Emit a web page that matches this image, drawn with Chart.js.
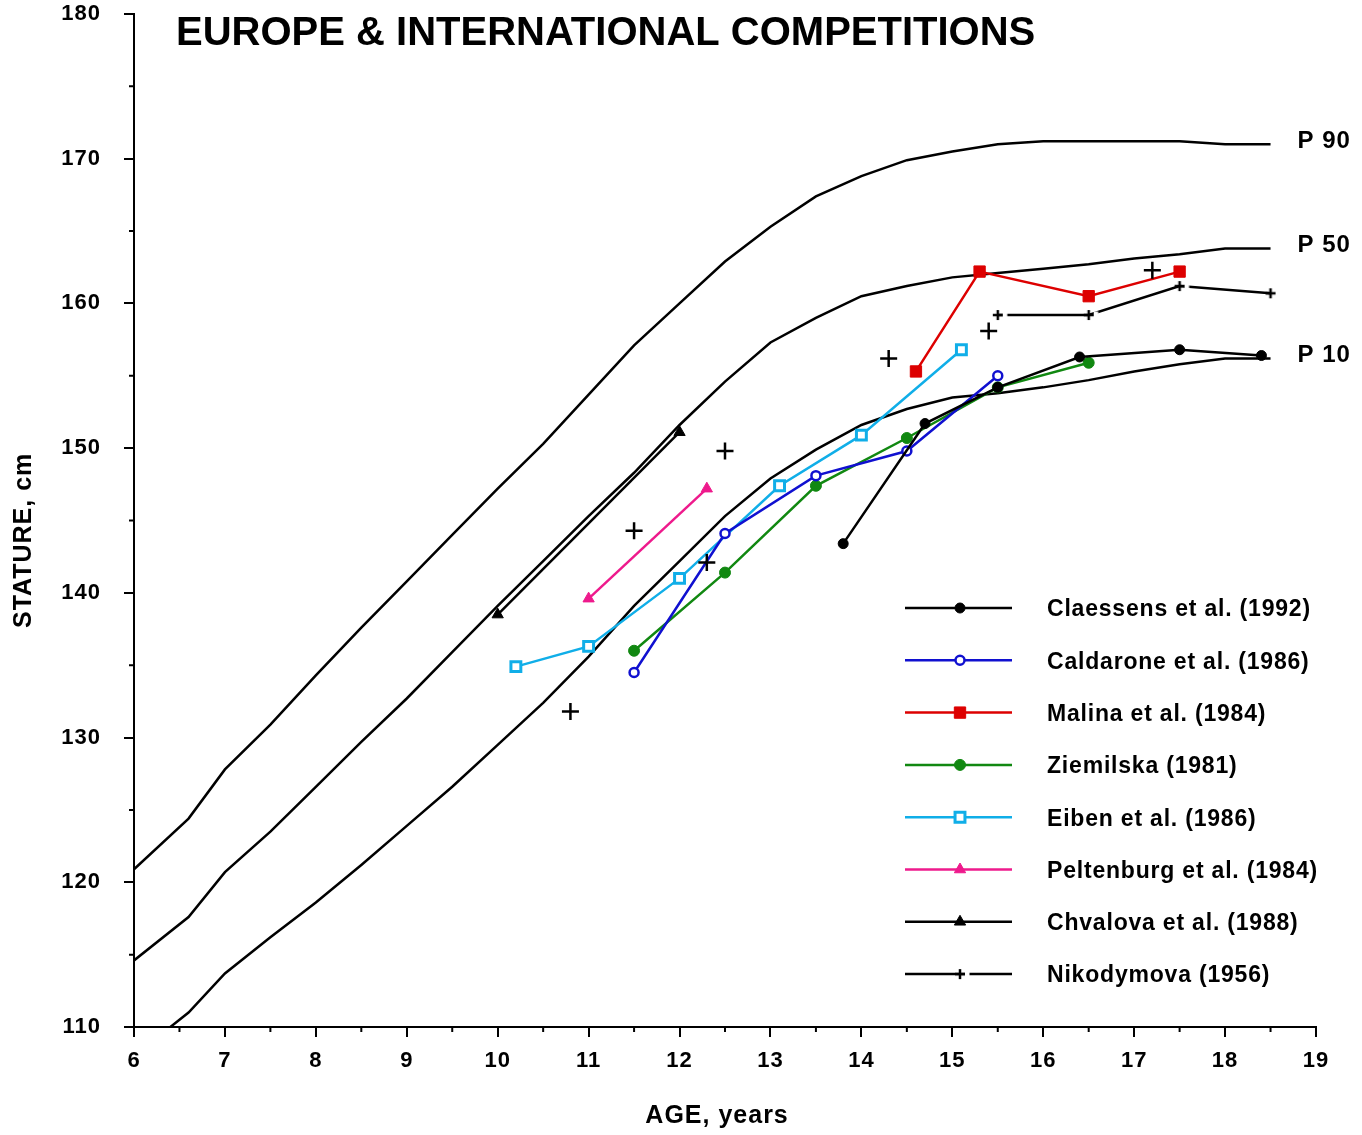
<!DOCTYPE html>
<html>
<head>
<meta charset="utf-8">
<script src="https://cdn.jsdelivr.net/npm/chart.js@4.4.1/dist/chart.umd.min.js"></script>
<style>
  html, body { margin: 0; padding: 0; background: #fff; }
</style>
</head>
<body>
<canvas id="grafico" width="1362" height="1135"></canvas>
<script>
// Curvas de referencia (percentiles)
const edadesRef = [6, 6.6, 7, 7.5, 8, 8.5, 9, 9.5, 10, 10.5, 11, 11.5, 12, 12.5, 13, 13.5, 14, 14.5, 15, 15.5, 16, 16.5, 17, 17.5, 18, 18.5];
const p90 = [120.9, 124.4, 127.8, 130.9, 134.3, 137.6, 140.8, 144.0, 147.2, 150.3, 153.7, 157.1, 160.0, 162.9, 165.3, 167.4, 168.8, 169.9, 170.5, 171.0, 171.2, 171.2, 171.2, 171.2, 171.0, 171.0];
const p50 = [114.6, 117.6, 120.7, 123.5, 126.6, 129.7, 132.7, 135.9, 139.1, 142.2, 145.3, 148.3, 151.6, 154.6, 157.3, 159.0, 160.5, 161.2, 161.8, 162.1, 162.4, 162.7, 163.1, 163.4, 163.8, 163.8];
const edadesP10 = [6.4, 6.6, 7, 7.5, 8, 8.5, 9, 9.5, 10, 10.5, 11, 11.5, 12, 12.5, 13, 13.5, 14, 14.5, 15, 15.5, 16, 16.5, 17, 17.5, 18, 18.5];
const p10 = [110.0, 111.0, 113.7, 116.2, 118.6, 121.2, 123.9, 126.6, 129.5, 132.4, 135.6, 139.1, 142.2, 145.3, 147.9, 149.9, 151.6, 152.7, 153.5, 153.8, 154.2, 154.7, 155.3, 155.8, 156.2, 156.2];
const etiquetasPercentil = ['P 90', 'P 50', 'P 10'];

// Estudios
const claessensEdad = [13.8, 14.7, 15.5, 16.4, 17.5, 18.4];
const claessensTalla = [143.4, 151.7, 154.2, 156.3, 156.8, 156.4];
const caldaroneEdad = [11.5, 12.5, 13.5, 14.5, 15.5];
const caldaroneTalla = [134.5, 144.1, 148.1, 149.8, 155.0];
const malinaEdad = [14.6, 15.3, 16.5, 17.5];
const malinaTalla = [155.3, 162.2, 160.5, 162.2];
const ziemilskaEdad = [11.5, 12.5, 13.5, 14.5, 15.5, 16.5];
const ziemilskaTalla = [136.0, 141.4, 147.4, 150.7, 154.2, 155.9];
const eibenEdad = [10.2, 11.0, 12.0, 13.1, 14.0, 15.1];
const eibenTalla = [134.9, 136.3, 141.0, 147.4, 150.9, 156.8];
const peltenburgEdad = [11.0, 12.3];
const peltenburgTalla = [139.6, 147.2];
const chvalovaEdad = [10.0, 12.0];
const chvalovaTalla = [138.5, 151.1];
const nikodymovaEdad = [15.5, 16.5, 17.5, 18.5];
const nikodymovaTalla = [159.2, 159.2, 161.2, 160.7];
// Puntos sueltos (cruces grandes)
const sueltosEdad = [10.8, 11.5, 12.3, 12.5, 14.3, 15.4, 17.2];
const sueltosTalla = [131.8, 144.3, 142.1, 149.8, 156.2, 158.1, 162.3];

const ticksX = [6, 7, 8, 9, 10, 11, 12, 13, 14, 15, 16, 17, 18, 19];
const ticksY = [110, 120, 130, 140, 150, 160, 170, 180];

const FUENTE = '"Liberation Sans", Arial, sans-serif';

function puntos(xs, ys) {
    return xs.map((x, i) => ({ x: x, y: ys[i] }));
}

// Marcador cruz con hueco blanco a la derecha (como en el original)
function cruzConHueco() {
    const c = document.createElement('canvas');
    c.width = 22; c.height = 22;
    const g = c.getContext('2d');
    g.fillStyle = '#fff';
    g.fillRect(16, 7.5, 4.5, 7);
    g.strokeStyle = '#000';
    g.lineWidth = 2.5;
    g.beginPath();
    g.moveTo(6, 11); g.lineTo(16, 11);
    g.moveTo(11, 6); g.lineTo(11, 16);
    g.stroke();
    return c;
}

function curva(xs, ys) {
    return { data: puntos(xs, ys), borderColor: '#000', borderWidth: 2.5, pointRadius: 0, tension: 0, order: 5 };
}

function serie(nombre, xs, ys, color, estilo, radio, relleno, grosorBorde) {
    return {
        label: nombre,
        data: puntos(xs, ys),
        borderColor: color,
        borderWidth: 2.5,
        backgroundColor: relleno,
        pointStyle: estilo,
        pointRadius: radio,
        pointBorderColor: color,
        pointBackgroundColor: relleno,
        pointBorderWidth: grosorBorde,
        tension: 0,
        enLeyenda: true,
        order: 1
    };
}

const datasets = [
    curva(edadesRef, p90),
    curva(edadesRef, p50),
    curva(edadesP10, p10),
    serie('Claessens et al. (1992)', claessensEdad, claessensTalla, '#000000', 'circle', 5, '#000000', 1),
    serie('Caldarone et al. (1986)', caldaroneEdad, caldaroneTalla, '#1010d0', 'circle', 4.5, '#ffffff', 2.5),
    serie('Malina et al. (1984)', malinaEdad, malinaTalla, '#dd0000', 'rect', 8, '#dd0000', 1),
    serie('Ziemilska (1981)', ziemilskaEdad, ziemilskaTalla, '#118811', 'circle', 5.5, '#118811', 1),
    serie('Eiben et al. (1986)', eibenEdad, eibenTalla, '#10aee8', 'rect', 7, '#ffffff', 3),
    serie('Peltenburg et al. (1984)', peltenburgEdad, peltenburgTalla, '#ee1a8c', 'triangle', 6.5, '#ee1a8c', 1),
    serie('Chvalova et al. (1988)', chvalovaEdad, chvalovaTalla, '#000000', 'triangle', 6.5, '#000000', 1),
    serie('Nikodymova (1956)', nikodymovaEdad, nikodymovaTalla, '#000000', cruzConHueco(), 5, '#000000', 2.5),
    {
        data: puntos(sueltosEdad, sueltosTalla),
        showLine: false,
        pointStyle: 'cross',
        pointRadius: 8.5,
        pointBorderColor: '#000',
        pointBorderWidth: 2.5,
        order: 0
    }
];

// Decoraciones: ticks menores, titulo, etiquetas P, leyenda
const pluginDecoracion = {
    id: 'decoracion',
    beforeLayout(chart) { chart.ctx.letterSpacing = '1px'; },
    beforeDraw(chart) { chart.ctx.letterSpacing = '1px'; },
    afterDraw(chart) {
        const ctx = chart.ctx;
        const ex = chart.scales.x, ey = chart.scales.y;
        ctx.save();

        // ticks menores
        ctx.strokeStyle = '#000';
        ctx.lineWidth = 2;
        ctx.beginPath();
        for (let v = ey.min + 5; v < ey.max; v += 10) {
            const py = ey.getPixelForValue(v);
            ctx.moveTo(ex.left - 5, py); ctx.lineTo(ex.left, py);
        }
        for (let v = ex.min + 0.5; v < ex.max; v += 1) {
            const px = ex.getPixelForValue(v);
            ctx.moveTo(px, ey.bottom); ctx.lineTo(px, ey.bottom + 5);
        }
        ctx.stroke();

        // titulo
        ctx.fillStyle = '#000';
        ctx.letterSpacing = '0px';
        ctx.font = 'bold 40px ' + FUENTE;
        ctx.textAlign = 'left';
        ctx.textBaseline = 'middle';
        ctx.fillText('EUROPE & INTERNATIONAL COMPETITIONS', 176, 34);

        // etiquetas de percentiles
        ctx.letterSpacing = '1px';
        ctx.font = 'bold 24px ' + FUENTE;
        [p90, p50, p10].forEach((serieP, i) => {
            const px = ex.getPixelForValue(edadesRef[edadesRef.length - 1]) + 27;
            const py = ey.getPixelForValue(serieP[serieP.length - 1]) - 3;
            ctx.fillText(etiquetasPercentil[i], px, py);
        });

        // leyenda
        let fila = 0;
        chart.data.datasets.forEach(ds => {
            if (!ds.enLeyenda) return;
            const yy = 608 + fila * 52.3;
            ctx.strokeStyle = ds.borderColor;
            ctx.lineWidth = 2.5;
            ctx.beginPath();
            ctx.moveTo(905, yy); ctx.lineTo(1012, yy);
            ctx.stroke();
            ctx.fillStyle = ds.pointBackgroundColor;
            ctx.strokeStyle = ds.pointBorderColor;
            ctx.lineWidth = ds.pointBorderWidth;
            Chart.helpers.drawPoint(ctx, {
                pointStyle: ds.pointStyle, radius: ds.pointRadius, rotation: 0, borderWidth: ds.pointBorderWidth
            }, 960, yy);
            ctx.fillStyle = '#000';
            ctx.font = 'bold 23px ' + FUENTE;
            ctx.letterSpacing = '0.8px';
            ctx.textAlign = 'left';
            ctx.textBaseline = 'middle';
            ctx.fillText(ds.label, 1047, yy + 2);
            fila++;
        });
        ctx.restore();
    }
};

const ctx = document.getElementById('grafico').getContext('2d');
new Chart(ctx, {
    type: 'line',
    data: { datasets: datasets },
    plugins: [pluginDecoracion],
    options: {
        responsive: false,
        animation: false,
        events: [],
        layout: { padding: { left: 0, top: 14, right: 46, bottom: 0 } },
        plugins: { legend: { display: false }, tooltip: { enabled: false } },
        scales: {
            x: {
                type: 'linear',
                min: 6, max: 19,
                afterFit: s => { s.height = 108; s.paddingLeft = 0; s.paddingRight = 0; },
                afterBuildTicks: s => { s.ticks = ticksX.map(v => ({ value: v })); },
                border: { display: true, color: '#000', width: 2 },
                grid: { drawOnChartArea: false, drawTicks: true, tickLength: 10, color: '#000', lineWidth: 2 },
                ticks: { color: '#000', padding: 11, maxRotation: 0, font: { family: FUENTE, size: 22, weight: 'bold' } },
                title: { display: true, text: 'AGE, years  ', color: '#000', padding: { top: 4, bottom: 4 }, font: { family: FUENTE, size: 25, weight: 'bold' } }
            },
            y: {
                type: 'linear',
                min: 110, max: 180,
                afterFit: s => { s.width = 134; s.paddingTop = 0; s.paddingBottom = 0; },
                afterBuildTicks: s => { s.ticks = ticksY.map(v => ({ value: v })); },
                border: { display: true, color: '#000', width: 2 },
                grid: { drawOnChartArea: false, drawTicks: true, tickLength: 10, color: '#000', lineWidth: 2 },
                ticks: { color: '#000', padding: 23, font: { family: FUENTE, size: 22, weight: 'bold' } },
                title: { display: true, text: 'STATURE, cm     ', color: '#000', padding: { top: 9, bottom: 9 }, font: { family: FUENTE, size: 25, weight: 'bold' } }
            }
        }
    }
});
</script>
</body>
</html>
